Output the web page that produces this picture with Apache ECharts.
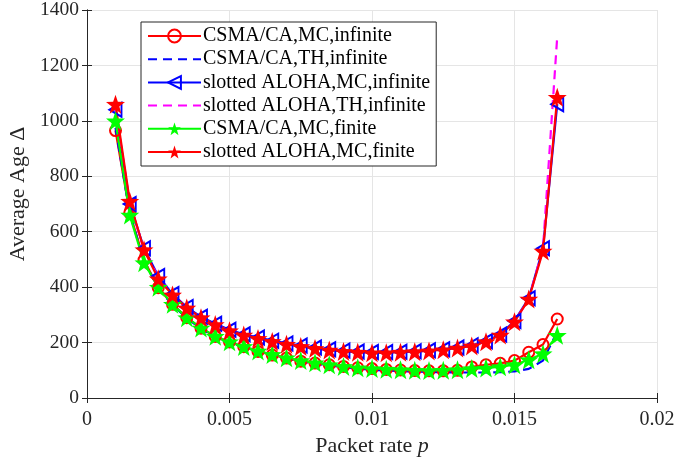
<!DOCTYPE html>
<html>
<head>
<meta charset="utf-8">
<script src="https://cdn.jsdelivr.net/npm/echarts@6/dist/echarts.min.js"></script>
<style>html,body{margin:0;padding:0;background:#fff;}#c{width:678px;height:461px;}</style>
</head>
<body>
<div id="c"></div>
<script>
// packet rate values
var pRate = [0.001,0.0015,0.002,0.0025,0.003,0.0035,0.004,0.0045,0.005,0.0055,0.006,0.0065,0.007,0.0075,0.008,0.0085,0.009,0.0095,0.01,0.0105,0.011,0.0115,0.012,0.0125,0.013,0.0135,0.014,0.0145,0.015,0.0155,0.016,0.0165];
var csmaMCinf = [965,668,498,398,338,290,252,222,202,185,168,155,144,133,126,120,114,109,106,103,101,99,98,98,100,112,120,125,135,165,193,285];
var csmaTHinf = [975,665,495,396,336,288,250,220,200,183,166,153,142,131,124,117,111,106,102,99,97,95,94,93,92,92,92,93,96,105,135,240];
var alohaMCinf = [1040,700,540,440,375,328,293,268,246,230,218,207,197,189,182,176,171,168,166,166,167,169,172,176,182,190,205,229,278,360,540,1060];
var alohaTHinf = [1045,705,535,436,371,324,289,264,243,227,215,204,194,186,179,173,168,165,163,163,165,167,170,174,180,188,203,227,275,357,540,1305];
var csmaMCfin = [1000,660,488,400,338,290,253,223,203,186,170,157,145,135,127,120,114,109,106,104,102,100,99,100,102,106,108,113,120,138,160,226];
var alohaMCfin = [1060,710,535,430,372,325,290,265,243,227,215,204,194,186,179,173,168,165,163,163,165,167,170,174,180,188,203,227,275,357,530,1085];
var xTickLabels = ['0','0.005','0.01','0.015','0.02'];
var yTickLabels = ['0','200','400','600','800','1000','1200','1400'];
var seriesNames = ['CSMA/CA,MC,infinite','CSMA/CA,TH,infinite','slotted ALOHA,MC,infinite','slotted ALOHA,TH,infinite','CSMA/CA,MC,finite','slotted ALOHA,MC,finite'];

function pairs(ys){ return pRate.map(function(x,i){ return [x, ys[i]]; }); }
var FONT = 'Liberation Serif';
var star = 'path://M0,-10 L2.35,-3.24 L9.51,-3.09 L3.8,1.24 L5.88,8.09 L0,4 L-5.88,8.09 L-3.8,1.24 L-9.51,-3.09 L-2.35,-3.24 Z';
var triLeft = 'path://M-6,0 L6,-7 L6,7 Z';

var chart = echarts.init(document.getElementById('c'), null, {renderer:'canvas'});
var axisCol = '#262626';
var legendData = seriesNames.map(function(n, i){
  if (i === 1 || i === 3) return {name: n, itemStyle: {opacity: 0}};
  return {name: n};
});
var option = {
  animation: false,
  backgroundColor: '#fff',
  grid: {left: 87, right: 21, top: 10, bottom: 63, containLabel: false, outerBoundsMode: 'none'},
  legend: {
    orient: 'vertical', left: 141, top: 22,
    itemWidth: 53, itemHeight: 16, itemGap: 3.2,
    padding: [4, 6, 4, 6],
    borderColor: '#262626', borderWidth: 1, backgroundColor: '#fff',
    textStyle: {fontFamily: FONT, fontSize: 20, lineHeight: 20, color: '#000', padding: [0,0,0,-3]},
    data: legendData
  },
  xAxis: [{
    type: 'value', min: 0, max: 0.02, interval: 0.005,
    name: 'Packet rate {i|p}', nameLocation: 'middle', nameGap: 34,
    nameTextStyle: {fontFamily: FONT, fontSize: 22, color: '#262626', rich: {i: {fontFamily: FONT, fontSize: 22, fontStyle: 'italic', color:'#262626'}}},
    axisLine: {show: true, lineStyle: {color: axisCol, width: 1}},
    axisTick: {show: true, inside: true, length: 5, lineStyle: {color: axisCol}},
    axisLabel: {fontFamily: FONT, fontSize: 20, color: '#262626', margin: 12,
      formatter: function(v){ return xTickLabels[Math.round(v/0.005)]; }},
    splitLine: {show: true, lineStyle: {color: '#e5e5e5', width: 1}}
  },{
    type: 'value', min: 0, max: 0.02, interval: 0.005, position: 'top',
    axisLine: {show: true, lineStyle: {color: axisCol, width: 1}},
    axisTick: {show: true, inside: true, length: 5, lineStyle: {color: axisCol}},
    axisLabel: {show: false}, splitLine: {show: false}
  }],
  yAxis: [{
    type: 'value', min: 0, max: 1400, interval: 200,
    name: 'Average Age Δ', nameLocation: 'middle', nameGap: 58,
    nameTextStyle: {fontFamily: FONT, fontSize: 22, color: '#262626', padding: [0, 0, 0, 20]},
    axisLine: {show: true, lineStyle: {color: axisCol, width: 1}},
    axisTick: {show: true, inside: true, length: 5, lineStyle: {color: axisCol}},
    axisLabel: {fontFamily: FONT, fontSize: 19.5, color: '#262626', margin: 8,
      formatter: function(v){ return yTickLabels[Math.round(v/200)]; }},
    splitLine: {show: true, lineStyle: {color: '#e5e5e5', width: 1}}
  },{
    type: 'value', min: 0, max: 1400, interval: 200, position: 'right',
    axisLine: {show: true, lineStyle: {color: axisCol, width: 1}},
    axisTick: {show: true, inside: true, length: 5, lineStyle: {color: axisCol}},
    axisLabel: {show: false}, splitLine: {show: false}
  }],
  series: [
    {name: seriesNames[0], type: 'line', data: pairs(csmaMCinf), symbol: 'circle', symbolSize: 11,
     lineStyle: {color: '#ff0000', width: 2.2}, itemStyle: {color: 'rgba(255,255,255,0)', borderColor: '#ff0000', borderWidth: 2}},
    {name: seriesNames[1], type: 'line', data: pairs(csmaTHinf), symbol: 'none', showSymbol: false,
     lineStyle: {color: '#0000ff', width: 2.2, type: [9, 6]}, itemStyle: {color: '#0000ff'}},
    {name: seriesNames[2], type: 'line', data: pairs(alohaMCinf), symbol: triLeft, symbolSize: [12, 14],
     lineStyle: {color: '#0000ff', width: 2.2}, itemStyle: {color: 'rgba(255,255,255,0)', borderColor: '#0000ff', borderWidth: 2}},
    {name: seriesNames[3], type: 'line', data: pairs(alohaTHinf), symbol: 'none', showSymbol: false,
     lineStyle: {color: '#ff00ff', width: 2.2, type: [9, 6]}, itemStyle: {color: '#ff00ff'}},
    {name: seriesNames[4], type: 'line', data: pairs(csmaMCfin), symbol: star, symbolSize: 19,
     lineStyle: {color: '#00ff00', width: 2.2}, itemStyle: {color: '#00ff00', borderColor: '#00ff00', borderWidth: 0}},
    {name: seriesNames[5], type: 'line', data: pairs(alohaMCfin), symbol: star, symbolSize: 19,
     lineStyle: {color: '#ff0000', width: 2.2}, itemStyle: {color: '#ff0000', borderColor: '#ff0000', borderWidth: 0}}
  ]
};
chart.setOption(option);
</script>
</body>
</html>
